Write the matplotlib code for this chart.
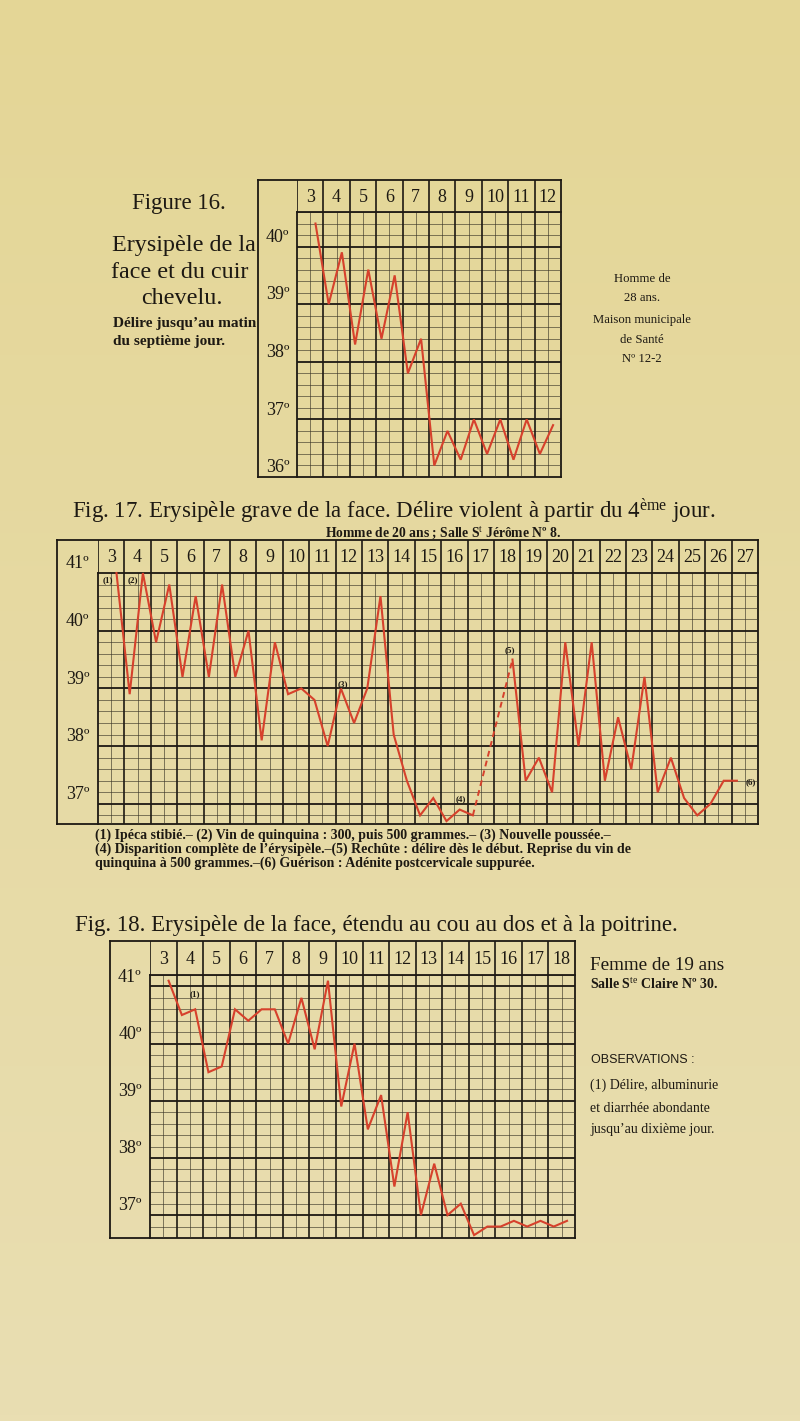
import numpy as np
import matplotlib
matplotlib.use('Agg')
import matplotlib.pyplot as plt
from matplotlib import transforms

W, H = 800, 1421
DPI = 100

plt.rcParams['font.family'] = ['Liberation Serif', 'DejaVu Serif']
plt.rcParams['mathtext.fontset'] = 'custom'
plt.rcParams['mathtext.rm'] = 'Liberation Serif'
plt.rcParams['mathtext.it'] = 'Liberation Serif:italic'
plt.rcParams['mathtext.bf'] = 'Liberation Serif:bold'

# ---------------- data ----------------
# temperatures: one value per half-day (matin, soir), starting at first day / half (0 = matin, 1 = soir)
f16_days = list(range(3, 13))
f16_first_day, f16_first_half = 3, 1
f16_temps = [40.4, 39.0, 39.9, 38.3, 39.6, 38.4, 39.5, 37.8, 38.4, 36.2,
             36.8, 36.3, 37.0, 36.4, 37.0, 36.3, 37.0, 36.4, 36.9]
f16_deg = [40, 39, 38, 37, 36]
f16_deg_labels = ['40º', '39º', '38º', '37º', '36º']
f16_ylim = (36.0, 40.6)

f17_days = list(range(3, 28))
f17_first_day, f17_first_half = 3, 1
f17_temps = [41.0, 38.9, 41.0, 39.8, 40.8, 39.2, 40.6, 39.2, 40.8, 39.2,
             40.0, 38.1, 39.8, 38.9, 39.0, 38.8, 38.0, 39.0, 38.4, 39.0,
             40.6, 38.2, 37.4, 36.8, 37.1, 36.7, 36.9, 36.8, None, None,
             39.5, 37.4, 37.8, 37.2, 39.8, 38.0, 39.8, 37.4, 38.5, 37.6,
             39.2, 37.2, 37.8, 37.1, 36.8, 37.0, 37.4, 37.4]
f17_deg = [41, 40, 39, 38, 37]
f17_deg_labels = ['41º', '40º', '39º', '38º', '37º']
f17_ylim = (36.65, 41.0)
f17_note_labels = ['(1)', '(2)', '(3)', '(4)', '(5)', '(6)']

f18_days = list(range(3, 19))
f18_first_day, f18_first_half = 3, 1
f18_temps = [41.1, 40.5, 40.6, 39.5, 39.6, 40.6, 40.4, 40.6, 40.6, 40.0,
             40.8, 39.9, 41.1, 38.9, 40.0, 38.5, 39.1, 37.5, 38.8, 37.0,
             37.9, 37.0, 37.2, 36.65, 36.8, 36.8, 36.9, 36.8, 36.9, 36.8,
             36.9]
f18_deg = [41, 40, 39, 38, 37]
f18_deg_labels = ['41º', '40º', '39º', '38º', '37º']
f18_ylim = (36.6, 41.2)
f18_note_labels = ['(1)']

f17_footnotes = [
    "(1) Ipéca stibié.– (2) Vin de quinquina : 300, puis 500 grammes.– (3) Nouvelle poussée.–",
    "(4) Disparition complète de l’érysipèle.–(5) Rechûte : délire dès le début. Reprise du vin de",
    "quinquina à 500 grammes.–(6) Guérison : Adénite postcervicale suppurée.",
]

INK = '#1d1913'
THIN = '#3b3628'
RED = '#d6412c'

fig = plt.figure(figsize=(W / DPI, H / DPI), dpi=DPI)
renderer = fig.canvas.get_renderer()

# paper background
bg = fig.add_axes([0, 0, 1, 1], zorder=-10)
g = np.linspace(0, 1, 256)[:, None, None]
top = np.array([228, 214, 150]) / 255.0
bot = np.array([233, 222, 178]) / 255.0
bg.imshow(top + (bot - top) * g, aspect='auto', extent=[0, 1, 0, 1])
bg.axis('off')


def px_axes(x0, y0, x1, y1):
    return fig.add_axes([x0 / W, 1 - y1 / H, (x1 - x0) / W, (y1 - y0) / H])


def fit_text(s, xl, xr, yc, fs0=12, max_fs=None, center=False, **kw):
    t = fig.text(xl / W, 1 - yc / H, s, fontsize=fs0, ha='left', va='center',
                 color=INK, **kw)
    bb = t.get_window_extent(renderer=renderer)
    fs = fs0 * (xr - xl) / bb.width
    if max_fs is not None:
        fs = min(fs, max_fs)
    t.set_fontsize(fs)
    if center:
        t.set_ha('center')
        t.set_x((xl + xr) / 2 / W)
    return t


def put_text(s, x, yc, fs, ha='center', **kw):
    return fig.text(x / W, 1 - yc / H, s, fontsize=fs, ha=ha, va='center',
                    color=INK, **kw)


def half_positions(n, first_day, first_half):
    xs = []
    for i in range(n):
        k = first_half + i
        d = first_day + k // 2
        xs.append(d + (0.2 if k % 2 == 0 else 0.7))
    return np.array(xs)


def chart(box, label_right, header_bottom, days, ylim, deg, deg_labels,
          temps, first_day, first_half, header_fs, label_fs):
    x0, y0, x1, y1 = box
    frame = px_axes(x0, y0, x1, y1)
    frame.set_xlim(0, 1)
    frame.set_ylim(0, 1)
    frame.set_xticks([])
    frame.set_yticks([])
    frame.patch.set_alpha(0)
    for s in frame.spines.values():
        s.set_linewidth(1.3)
        s.set_color(INK)

    hdr = px_axes(label_right, y0, x1, header_bottom)
    hdr.set_xlim(days[0], days[-1] + 1)
    hdr.set_ylim(0, 1)
    hdr.axis('off')
    for d in days:
        hdr.text(d + 0.5, 0.46, str(d), ha='center', va='center',
                 fontsize=header_fs, color=INK)
        hdr.axvline(d, color=INK, lw=1.2)

    ax = px_axes(label_right, header_bottom, x1, y1)
    ax.set_xlim(days[0], days[-1] + 1)
    ax.set_ylim(*ylim)
    ax.set_xticks([])
    ax.set_yticks([])
    ax.patch.set_alpha(0)
    for k, s in ax.spines.items():
        s.set_color(INK)
        s.set_linewidth(1.3)
        if k in ('right', 'bottom'):
            s.set_visible(False)

    minors = np.arange(np.ceil(ylim[0] * 5 - 1e-6) / 5, ylim[1] + 1e-6, 0.2)
    for t in minors:
        if abs(t - round(t)) > 1e-6:
            ax.axhline(t, color=THIN, lw=0.55, alpha=0.8, zorder=1)
    for t in deg:
        if ylim[0] < t < ylim[1]:
            ax.axhline(t, color=INK, lw=1.3, zorder=2)
    for d in days:
        ax.axvline(d + 0.5, color=THIN, lw=0.55, alpha=0.8, zorder=1)
        if d != days[0]:
            ax.axvline(d, color=INK, lw=1.2, zorder=2)

    vals = np.array([np.nan if v is None else v for v in temps], dtype=float)
    xs = half_positions(len(vals), first_day, first_half)
    ax.plot(xs, vals, color=RED, lw=1.5, zorder=5, solid_joinstyle='miter',
            clip_on=False)
    # dashed connection over missing readings
    valid = np.where(~np.isnan(vals))[0]
    for a, b in zip(valid[:-1], valid[1:]):
        if b - a > 1:
            ax.plot([xs[a], xs[b]], [vals[a], vals[b]], color=RED, lw=1.4,
                    ls=(0, (3, 2.2)), zorder=5)

    trans = transforms.blended_transform_factory(frame.transAxes, ax.transData)
    lx = ((x0 + label_right) / 2 - x0) / (x1 - x0)
    for t, lab in zip(deg, deg_labels):
        ax.annotate(lab, xy=(lx, t), xycoords=trans, xytext=(0, 0.5),
                    textcoords='offset points', ha='center', va='bottom',
                    fontsize=label_fs, color=INK, annotation_clip=False)
    return ax


# ---------------- Figure 16 ----------------
ax16 = chart((258, 180, 561, 477), 297, 212, f16_days, f16_ylim, f16_deg,
             f16_deg_labels, f16_temps, f16_first_day, f16_first_half, 13, 13)

t_title = fit_text("Erysipèle de la", 112, 255, 245, 16)
tfs = t_title.get_fontsize()
put_text("Figure 16.", 179, 203, tfs * 0.95)
put_text("face et du cuir", 180, 272, tfs)
put_text("chevelu.", 182, 298, tfs)
t_del = fit_text("Délire jusqu’au matin", 113, 256, 324, 10, weight='bold')
put_text("du septième jour.", 113, 341, t_del.get_fontsize(), ha='left', weight='bold')

for s, yc in [("Homme de", 279), ("28 ans.", 298), ("Maison municipale", 320),
              ("de Santé", 340), ("Nº 12-2", 359)]:
    put_text(s, 642, yc, 9.2)

# ---------------- Figure 17 ----------------
fit_text("Fig. 17. Erysipèle grave de la face. Délire violent à partir du 4$^{\\mathrm{ème}}$ jour.",
         72, 743, 511, 16, max_fs=16.5)
fit_text("Homme de 20 ans ; Salle S$^{\\mathrm{t}}$ Jérôme Nº 8.", 283, 603, 533, 9,
         max_fs=9.8, center=True, weight='bold')

ax17 = chart((57, 540, 758, 824), 98, 573, f17_days, f17_ylim, f17_deg,
             f17_deg_labels, f17_temps, f17_first_day, f17_first_half, 13, 13)
for lab, (xd, yt) in zip(f17_note_labels, [(3.36, 40.87), (4.32, 40.87), (12.28, 39.08),
                                           (16.76, 37.08), (18.6, 39.67), (27.72, 37.38)]):
    ax17.text(xd, yt, lab, fontsize=6.5, weight='bold', ha='center', va='center',
              color=INK, zorder=6, clip_on=False)

for i, line in enumerate(f17_footnotes):
    right = [745, 723, 613][i]
    fit_text(line, 95, right, 835 + 14 * i, 9, max_fs=10.0, weight='bold')

# ---------------- Figure 18 ----------------
fit_text("Fig. 18. Erysipèle de la face, étendu au cou au dos et à la poitrine.", 75, 682, 925, 16,
         max_fs=16.5)

ax18 = chart((110, 941, 575, 1238), 150, 975, f18_days, f18_ylim, f18_deg,
             f18_deg_labels, f18_temps, f18_first_day, f18_first_half, 13, 13)
ax18.text(4.7, 40.86, f18_note_labels[0], fontsize=6.5, weight='bold', ha='center',
          va='center', color=INK, zorder=6)

fit_text("Femme de 19 ans", 590, 724, 965, 12)
fit_text("Salle S$^{\\mathrm{te}}$ Claire Nº 30.", 590, 730, 984, 10, max_fs=10, weight='bold')
fit_text("OBSERVATIONS :", 591, 707, 1060, 9, max_fs=9, family='Liberation Sans')
fit_text("(1) Délire, albuminurie", 590, 743, 1085, 9, max_fs=10)
fit_text("et diarrhée abondante", 590, 740, 1108, 9, max_fs=10)
fit_text("jusqu’au dixième jour.", 590, 740, 1130, 9, max_fs=10)

fig.savefig('out.png', dpi=DPI)
